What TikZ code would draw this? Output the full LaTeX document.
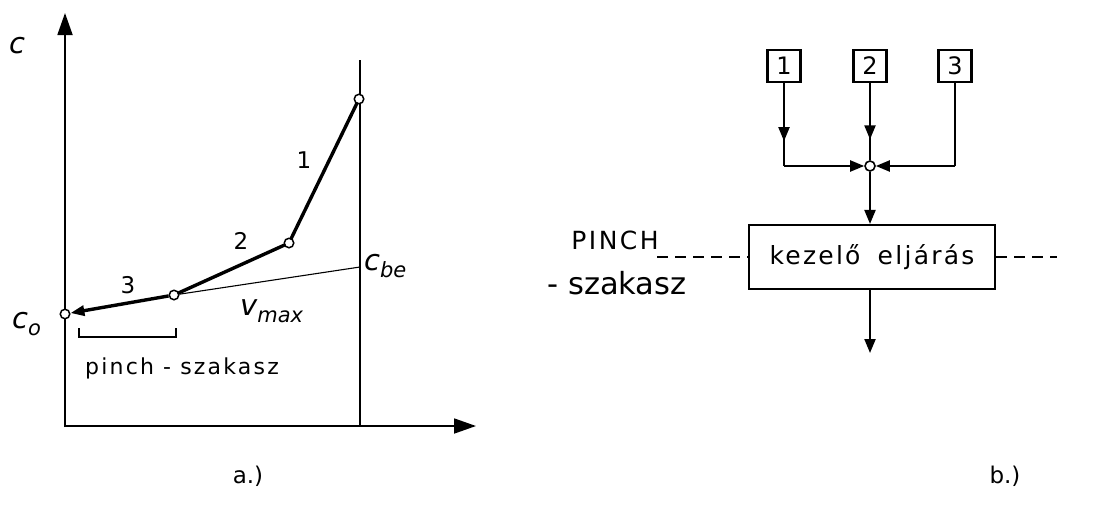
\documentclass[tikz,border=0pt]{standalone}
\usepackage{fontspec}
\setmainfont{DejaVu Sans}
\newfontfamily\lsp[LetterSpace=10]{DejaVu Sans}
\newfontfamily\lspw[LetterSpace=9]{DejaVu Sans}
\usetikzlibrary{arrows.meta,decorations.markings}
\newcommand{\subtxt}[1]{\raisebox{-7pt}{\fontsize{21}{21}\selectfont #1}}
\begin{document}
\begin{tikzpicture}[x=1pt,y=-1pt,
  lbl/.style={font=\fontsize{23}{23}\selectfont, inner sep=0},
  slbl/.style={font=\lsp\fontsize{22}{22}\selectfont, inner sep=0},
  blbl/.style={font=\fontsize{30.5}{30.5}\selectfont, inner sep=0},
  ilbl/.style={font=\fontsize{29}{29}\selectfont\itshape, inner sep=0},
  dot/.style={circle, draw, fill=white, line width=1.5pt, minimum size=9.5pt, inner sep=0},
  axisline/.style={line width=1.8pt, -{Triangle[length=22pt,width=15pt]}},
  thinline/.style={line width=1.1pt},
  thickline/.style={line width=3.4pt, line cap=round},
  numbox/.style={draw, line width=2.1pt, minimum width=33pt, minimum height=32pt, inner sep=0, font=\fontsize{24}{24}\selectfont},
  flow/.style={line width=2.1pt},
  tip/.style={-{Triangle[length=14pt,width=11pt]}},
  midarrow/.style={postaction={decorate}, decoration={markings, mark=at position #1 with {\arrow{Triangle[length=14pt,width=11pt]}}}},
  dashline/.style={line width=1.6pt, dash pattern=on 11pt off 7pt}
]
\useasboundingbox (0,0) rectangle (1107,506);
% ---------- panel a ----------
\coordinate (o) at (65,427);
\coordinate (ytop) at (65,13);
\coordinate (x0) at (64,426);
\coordinate (xend) at (476,426);
\draw[axisline] (o) -- (ytop);
\draw[axisline] (x0) -- (xend);
\coordinate (vtop) at (360,60);
\coordinate (vbot) at (360,426);
\draw[thinline] (vtop) -- (vbot);
\coordinate (cbe) at (360,267);
\node[dot] (p1) at (359,99) {};
\node[dot] (p2) at (289,243) {};
\node[dot] (p3) at (174,295) {};
\node[dot] (co) at (65,314) {};
\draw[thinline] (p3) -- (cbe);
\draw[thickline] (p1) -- (p2);
\draw[thickline] (p2) -- (p3);
\draw[thickline, line cap=butt, -{Triangle[length=14pt,width=10pt]}] (p3) -- (co);
\node[ilbl] (lc) at (17,46) {c};
\node[ilbl, anchor=base west] (lco) at (12,328) {c\subtxt{o}};
\node[ilbl, anchor=base west] (lcbe) at (364,270) {c\subtxt{be}};
\node[ilbl, anchor=base west] (lv) at (240,315) {v\subtxt{max}};
\node[lbl] (l1) at (304,160) {1};
\node[lbl] (l2) at (241,241) {2};
\node[lbl] (l3) at (128,285) {3};
\coordinate (br1) at (79,328);
\coordinate (br2) at (79,337);
\coordinate (br3) at (176,337);
\coordinate (br4) at (176,328);
\draw[thinline] (br1) -- (br2) -- (br3) -- (br4);
\node[slbl] (lpinch) at (182,368) {pinch - szakasz};
\node[lbl] (la) at (248,476) {a.)};
% ---------- panel b ----------
\node[numbox] (b1) at (784,66) {1};
\node[numbox] (b2) at (870,66) {2};
\node[numbox] (b3) at (955,66) {3};
\node[circle, draw, fill=white, line width=1.6pt, minimum size=10pt, inner sep=0] (j) at (870,166) {};
\node[draw, line width=2.1pt, minimum width=246pt, minimum height=64pt, inner sep=0, font=\lspw\fontsize{25}{25}\selectfont] (main) at (872,257) {kezelő\hspace{7pt} eljárás};
\coordinate (c1) at (b1.south |- j);
\coordinate (c3) at (b3.south |- j);
\draw[flow, midarrow=0.7] (b1.south) -- (c1);
\draw[flow, tip] (c1) -- (j);
\draw[flow, midarrow=0.73] (b2.south) -- (j);
\draw[flow] (b3.south) -- (c3);
\draw[flow, tip] (c3) -- (j);
\draw[flow, tip] (j) -- (j |- main.north);
\coordinate (out) at (870,353);
\draw[flow, tip] (main.south -| out) -- (out);
\coordinate (dl) at (657,257);
\coordinate (dr) at (1057,257);
\draw[dashline] (dl) -- (main.west);
\draw[dashline] (main.east) -- (dr);
\node[font=\lsp\fontsize{25}{25}\selectfont, inner sep=0] (lP) at (615,240) {PINCH};
\node[blbl] (lsz) at (617,283) {- szakasz};
\node[lbl] (lb) at (1005,476) {b.)};
\end{tikzpicture}
\end{document}
